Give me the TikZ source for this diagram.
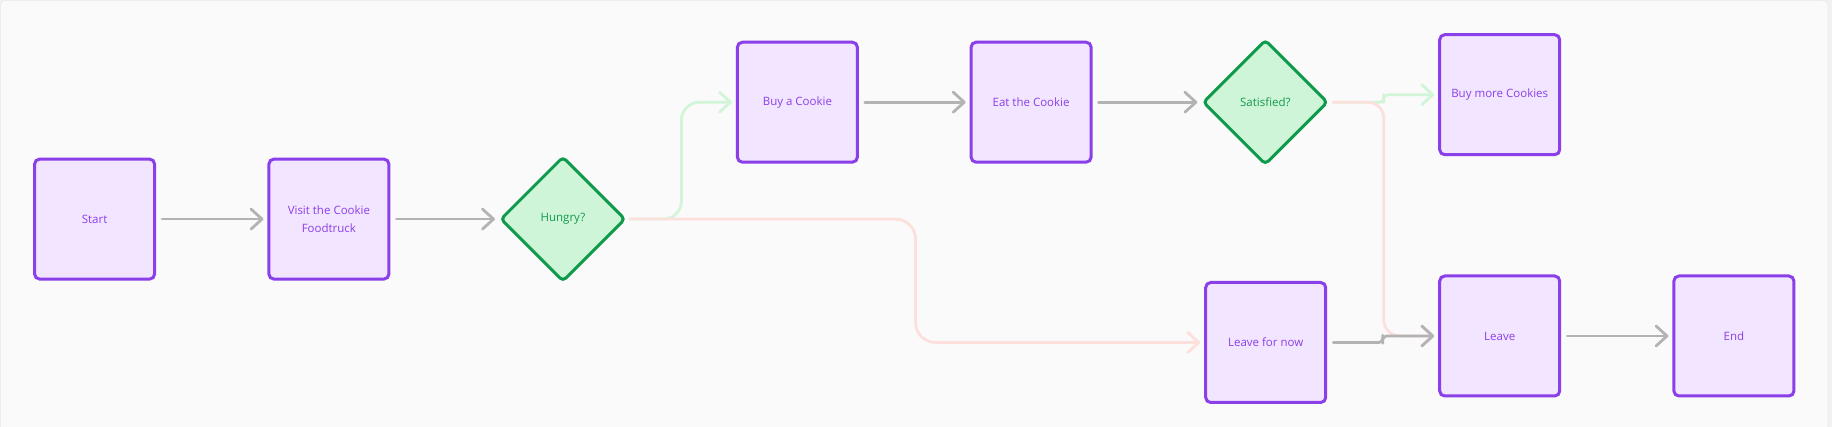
\documentclass[tikz,border=0pt]{standalone}
\usepackage{fontspec}
\setmainfont{Open Sans}
\usetikzlibrary{arrows.meta,shapes.geometric,calc}
\definecolor{bgpanel}{HTML}{FAFAFA}
\definecolor{bgstrip}{HTML}{F2F2F2}
\definecolor{panelline}{HTML}{E8E8E8}
\definecolor{boxline}{HTML}{8B3FE8}
\definecolor{boxfill}{HTML}{F2E5FF}
\definecolor{boxtext}{HTML}{8B3FE8}
\definecolor{decline}{HTML}{0E9A4A}
\definecolor{decfill}{HTML}{CFF5D8}
\definecolor{dectext}{HTML}{12994C}
\definecolor{grayline}{HTML}{B3B3B3}
\definecolor{greenline}{HTML}{D2F5D8}
\definecolor{redline}{HTML}{FDE0DC}
\tikzset{
  stepbox/.style={draw=boxline, fill=boxfill, line width=3pt, rounded corners=5pt,
    minimum width=120pt, minimum height=120pt, text=boxtext, align=center,
    inner sep=0pt, font=\fontsize{11.5}{17.5}\selectfont},
  decision/.style={diamond, draw=decline, fill=decfill, line width=3pt, rounded corners=4pt,
    minimum width=125pt, minimum height=125pt, text=dectext, align=center,
    inner sep=0pt, font=\fontsize{11.5}{17.5}\selectfont},
  tip/.style={-{Straight Barb[length=11pt,width=20pt,line width=2.8pt,round]}},
  conn/.style={tip, line width=2.8pt, line cap=round, line join=round},
  grayconn/.style={conn, draw=grayline},
  greenconn/.style={conn, draw=greenline},
  redconn/.style={conn, draw=redline},
}
\begin{document}
\begin{tikzpicture}[x=1pt,y=-1pt]
\useasboundingbox (0,0) rectangle (1832,427);
% background
\fill[bgstrip] (0,0) rectangle (1832,427);
\filldraw[fill=bgpanel, draw=panelline, line width=0.6pt, rounded corners=5pt] (0.3,0.3) rectangle (1828,445);
\foreach \yy in {6,14,...,427} {\fill[panelline] (1830.5,\yy) circle (0.6pt);}
% nodes
\node[stepbox] (start) at (94.6,219.1) {Start};
\node[stepbox] (visit) at (328.9,219.1) {Visit the Cookie\\Foodtruck};
\node[decision] (hungry) at (562.9,219.1) {Hungry?};
\node[stepbox] (buy) at (797.4,102.2) {Buy a Cookie};
\node[stepbox] (eat) at (1031.1,102.2) {Eat the Cookie};
\node[decision] (sat) at (1265.3,102.2) {Satisfied?};
\node[stepbox] (buymore) at (1499.7,94.7) {Buy more Cookies};
\node[stepbox] (leavenow) at (1265.7,342.5) {Leave for now};
\node[stepbox] (leave) at (1499.7,336) {Leave};
\node[stepbox] (end) at (1733.9,336) {End};
% helper coordinates for bends
\coordinate (hb) at ($(hungry.east)!0.5!(buy.west)$);
\coordinate (hl) at ($(hungry.east)!0.5!(leavenow.west)$);
\coordinate (sb) at ($(sat.east)!0.5!(buymore.west)$);
\coordinate (sl) at ($(sat.east)!0.5!(leave.west)$);
\coordinate (ll) at ($(leavenow.east)!0.5!(leave.west)$);
% green connectors
\draw[greenconn, rounded corners=18pt] ([xshift=3pt]hungry.east) -| (hb) |- ([xshift=-4pt]buy.west);
\draw[greenconn, rounded corners=4pt] ([xshift=4pt]sat.east) -| (sb) |- ([xshift=-4pt]buymore.west);
% red connectors
\draw[redconn, rounded corners=20pt] ([xshift=3pt]hungry.east) -| (hl) |- ([xshift=-4pt]leavenow.west);
\draw[redconn, rounded corners=16pt] ([xshift=4pt]sat.east) -| (sl) |- ([xshift=-4pt]leave.west);
% gray connectors
\draw[grayconn] ([xshift=6pt]start.east) -- ([xshift=-4pt]visit.west);
\draw[grayconn] ([xshift=6pt]visit.east) -- ([xshift=-4pt]hungry.west);
\draw[grayconn] ([xshift=6pt]buy.east) -- ([xshift=-4pt]eat.west);
\draw[grayconn] ([xshift=6pt]eat.east) -- ([xshift=-4pt]sat.west);
\draw[grayconn, rounded corners=4pt] ([xshift=6pt]leavenow.east) -| (ll) |- ([xshift=-4pt]leave.west);
\draw[grayconn] ([xshift=6pt]leave.east) -- ([xshift=-4pt]end.west);
\end{tikzpicture}
\end{document}
